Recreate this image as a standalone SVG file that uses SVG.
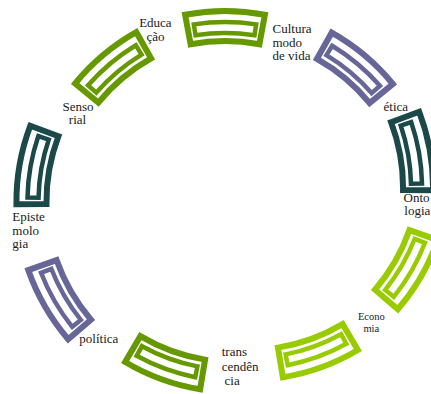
<svg xmlns="http://www.w3.org/2000/svg" width="431" height="394" viewBox="0 0 431 394">
<style>
.seg use{fill:none;stroke-linejoin:miter}
.o{stroke-width:6}
.i{stroke-width:4.5}
.green{stroke:#669900}
.purple{stroke:#666699}
.teal{stroke:#1b4949}
.lime{stroke:#99cc00}
text{font-family:"Liberation Serif","Times New Roman",serif;font-size:13px;fill:#1a1a1a}
.sm{font-size:10.5px}
.c{text-anchor:middle}
</style>
<defs>
<path id="outer" d="M -39.9,-11.3 A 215 215 0 0 1 39.9,-11.3 L 34.4,18.2 A 185 185 0 0 0 -34.4,18.2 Z"/>
<path id="inner" d="M -31.2,-1.6 A 204 204 0 0 1 31.2,-1.6 L 29.5,9.3 A 193 193 0 0 0 -29.5,9.3 Z"/>
</defs>
<g id="connectors"></g>
<g id="n-cultura">
<g class="seg green" transform="translate(225,26) rotate(0)"><use class="o" href="#outer"/><use class="i" href="#inner"/></g>
<text x="272.5" y="33">Cultura</text><text x="272.5" y="46.7">modo</text><text x="272.5" y="60.4">de vida</text>
</g>
<g id="n-etica">
<g class="seg purple" transform="translate(355,67) rotate(40)"><use class="o" href="#outer"/><use class="i" href="#inner"/></g>
<text x="383.5" y="110.5">ética</text>
</g>
<g id="n-ontologia">
<g class="seg teal" transform="translate(415,153) rotate(80)"><use class="o" href="#outer"/><use class="i" href="#inner"/></g>
<text x="403.5" y="201.5">Onto</text><text x="404.3" y="215">logia</text>
</g>
<g id="n-lime">
<g class="seg lime" transform="translate(408,269) rotate(120)"><use class="o" href="#outer"/><use class="i" href="#inner"/></g>
</g>
<g id="n-economia">
<g class="seg lime" transform="translate(316.5,353) rotate(160)"><use class="o" href="#outer"/><use class="i" href="#inner"/></g>
<text class="sm c" x="371.3" y="320">Econo</text><text class="sm c" x="371.3" y="331.5">mia</text>
</g>
<g id="n-transcendencia">
<g class="seg green" transform="translate(166.5,365) rotate(200)"><use class="o" href="#outer"/><use class="i" href="#inner"/></g>
<text x="221.7" y="356">trans</text><text x="221.7" y="370.5">cendên</text><text x="224.5" y="385">cia</text>
</g>
<g id="n-politica">
<g class="seg purple" transform="translate(58,299) rotate(240)"><use class="o" href="#outer"/><use class="i" href="#inner"/></g>
<text x="79.3" y="342.5">política</text>
</g>
<g id="n-epistemologia">
<g class="seg teal" transform="translate(34.5,167) rotate(280)"><use class="o" href="#outer"/><use class="i" href="#inner"/></g>
<text x="12.3" y="221">Episte</text><text x="12.3" y="234.7">molo</text><text x="12.3" y="248.4">gia</text>
</g>
<g id="n-sensorial">
<g class="seg green" transform="translate(113,66.5) rotate(320)"><use class="o" href="#outer"/><use class="i" href="#inner"/></g>
<text class="c" x="78" y="110.7">Senso</text><text class="c" x="77.5" y="124.3">rial</text>
</g>
<g id="n-educacao">
<text class="c" x="155.4" y="26.5">Educa</text><text class="c" x="155.5" y="40.8">ção</text>
</g>
</svg>
